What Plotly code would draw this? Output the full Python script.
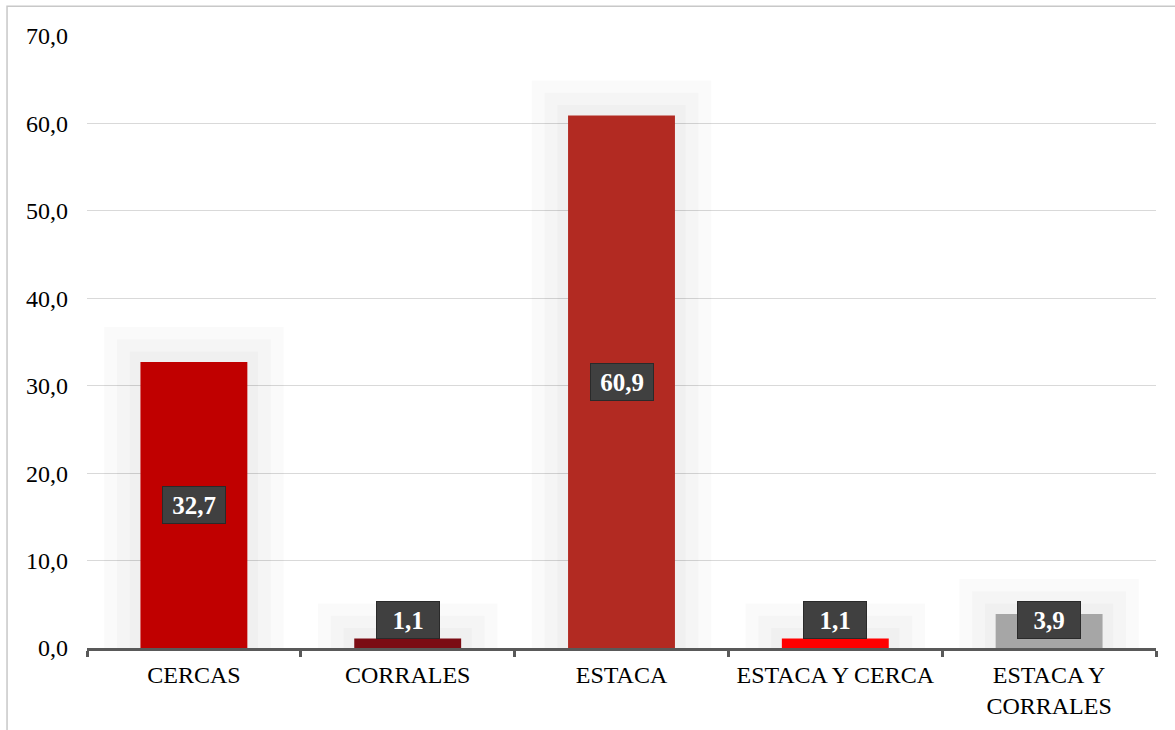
import plotly.graph_objects as go

categories = ["CERCAS", "CORRALES", "ESTACA", "ESTACA Y CERCA", "ESTACA Y<br>CORRALES"]
values = [32.7, 1.1, 60.9, 1.1, 3.9]
bar_colors = ["#C00000", "#7B0C14", "#B22A22", "#FF0000", "#A6A6A6"]
y_ticks = [0, 10, 20, 30, 40, 50, 60, 70]

SERIF = "'Times New Roman', 'Liberation Serif', 'DejaVu Serif', serif"
BAR_WIDTH = 0.5
MIN_LABEL_Y = 3.2

fig = go.Figure()

# soft glow behind each bar: a few translucent, slightly larger bars
for extra_w, extra_h in [(0.34, 4.0), (0.22, 2.6), (0.1, 1.2)]:
    fig.add_trace(go.Bar(
        x=categories,
        y=[v + extra_h for v in values],
        width=BAR_WIDTH + extra_w,
        marker=dict(color="rgba(0,0,0,0.02)", line=dict(width=0)),
        hoverinfo="skip",
        showlegend=False,
    ))

fig.add_trace(go.Bar(
    x=categories,
    y=values,
    width=BAR_WIDTH,
    marker=dict(color=bar_colors, line=dict(width=0)),
    showlegend=False,
))

annotations = []
for cat, v in zip(categories, values):
    label = f"{v:.1f}".replace(".", ",")
    ly = max(v / 2, MIN_LABEL_Y)
    annotations.append(dict(
        x=cat, y=ly, xref="x", yref="y", text=f"<b>{label}</b>", showarrow=False,
        font=dict(family=SERIF, size=25, color="#FFFFFF"),
        bgcolor="#404040", bordercolor="#2A2A2A", borderwidth=1,
        borderpad=4, width=54, height=28,
    ))

fig.update_layout(
    width=1175, height=730,
    margin=dict(l=87, r=19, t=35, b=82),
    paper_bgcolor="#FFFFFF", plot_bgcolor="#FFFFFF",
    barmode="overlay",
    separators=",.",
    font=dict(family=SERIF),
    annotations=annotations,
    shapes=[dict(
        type="rect", xref="paper", yref="paper",
        x0=-0.0748, x1=1.03, y0=-0.2, y1=1.047,
        line=dict(color="#C8C8C8", width=1.5), fillcolor="rgba(0,0,0,0)",
        layer="below",
    )],
    xaxis=dict(
        type="category",
        showline=True, linecolor="#595959", linewidth=3,
        ticks="outside", tickson="boundaries", ticklen=6, tickwidth=3, tickcolor="#595959",
        showgrid=False,
        ticklabelstandoff=3,
        tickfont=dict(family=SERIF, size=24, color="#000000"),
    ),
    yaxis=dict(
        range=[0, 70.1],
        tickvals=y_ticks, tickformat=".1f",
        showgrid=True, gridcolor="#D9D9D9", gridwidth=1.3,
        zeroline=False, showline=False,
        ticklabelstandoff=18,
        tickfont=dict(family=SERIF, size=24, color="#000000"),
    ),
)

fig.write_html("out.html")
